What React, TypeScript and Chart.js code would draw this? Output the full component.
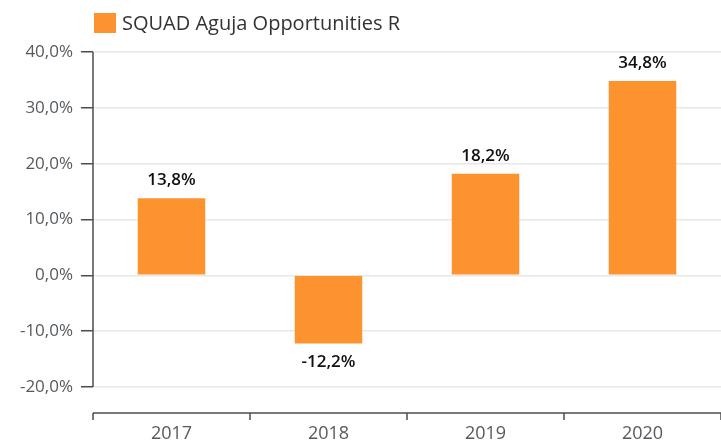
import React, { useEffect, useRef } from "react";
import { Chart, registerables } from "chart.js";

Chart.register(...registerables);

const categories = ["2017", "2018", "2019", "2020"];
const seriesName = "SQUAD Aguja Opportunities R";
const seriesValues = [13.8, -12.2, 18.2, 34.8];
const yTicks = [-20, -10, 0, 10, 20, 30, 40];

const ORANGE = "#fd932f";
const FONT = '"Open Sans", "Noto Sans", sans-serif';
const fmt = (v: number) => v.toFixed(1).replace(".", ",") + "%";

const customPlugin = {
  id: "custom",
  afterDraw(chart: any) {
    const ctx = chart.ctx;
    const area = chart.chartArea;
    const y = chart.scales.y;
    const x = chart.scales.x;
    ctx.save();
    // y axis line
    ctx.strokeStyle = "#4d4d4d";
    ctx.lineWidth = 1.5;
    ctx.beginPath();
    ctx.moveTo(area.left, y.getPixelForValue(yTicks[yTicks.length - 1]));
    ctx.lineTo(area.left, y.getPixelForValue(yTicks[0]));
    ctx.stroke();
    // x axis line, offset below plot
    const axY = area.bottom + 26;
    ctx.beginPath();
    ctx.moveTo(area.left, axY);
    ctx.lineTo(area.right, axY);
    ctx.stroke();
    const half = (x.getPixelForValue(1) - x.getPixelForValue(0)) / 2;
    for (let i = 0; i <= categories.length; i++) {
      const px = x.getPixelForValue(i) - half;
      ctx.beginPath();
      ctx.moveTo(px, axY);
      ctx.lineTo(px, axY + 7);
      ctx.stroke();
    }
    // legend
    ctx.fillStyle = ORANGE;
    ctx.fillRect(area.left + 1, 13, 22, 20);
    ctx.fillStyle = "#333333";
    ctx.font = `20px ${FONT}`;
    ctx.textAlign = "left";
    ctx.textBaseline = "middle";
    ctx.fillText(seriesName, area.left + 29, 24);
    ctx.restore();
  },
  afterDatasetsDraw(chart: any) {
    const ctx = chart.ctx;
    const meta = chart.getDatasetMeta(0);
    ctx.save();
    ctx.font = `600 17px ${FONT}`;
    ctx.fillStyle = "#111111";
    ctx.textAlign = "center";
    ctx.textBaseline = "middle";
    meta.data.forEach((bar: any, i: number) => {
      const v = seriesValues[i];
      const ty = v >= 0 ? bar.y - 18 : bar.y + 19;
      ctx.fillText(fmt(v), bar.x, ty);
    });
    ctx.restore();
  },
};

export default function App() {
  const ref = useRef<HTMLCanvasElement>(null);
  useEffect(() => {
    if (!ref.current) return;
    const chart = new Chart(ref.current, {
      type: "bar",
      data: {
        labels: categories,
        datasets: [
          {
            label: seriesName,
            data: seriesValues,
            backgroundColor: ORANGE,
            categoryPercentage: 1,
            barPercentage: 0.43,
          },
        ],
      },
      options: {
        responsive: false,
        animation: false,
        layout: { padding: { top: 52, right: 0, left: 0, bottom: 0 } },
        plugins: { legend: { display: false }, tooltip: { enabled: false } },
        scales: {
          x: {
            grid: { display: false, drawTicks: false },
            border: { display: false },
            ticks: { font: { family: FONT, size: 18 }, color: "#555a60", padding: 36 },
            afterFit: (s: any) => {
              s.height = 54;
            },
          },
          y: {
            min: yTicks[0],
            max: yTicks[yTicks.length - 1],
            afterBuildTicks: (s: any) => {
              s.ticks = yTicks.map((v) => ({ value: v }));
            },
            grid: { color: "#e8e8e8", lineWidth: 1.5, tickColor: "#4d4d4d", tickLength: 12 },
            border: { display: false },
            ticks: {
              font: { family: FONT, size: 17 },
              color: "#555a60",
              padding: 8,
              callback: (v: any) => fmt(Number(v)),
            },
            afterFit: (s: any) => {
              s.width = 93;
            },
          },
        },
      },
      plugins: [customPlugin],
    });
    return () => chart.destroy();
  }, []);
  return (
    <div style={{ position: "fixed", left: 0, top: 0, width: 721, height: 441, background: "#fff" }}>
      <canvas ref={ref} width={721} height={441} style={{ width: 721, height: 441 }} />
    </div>
  );
}
